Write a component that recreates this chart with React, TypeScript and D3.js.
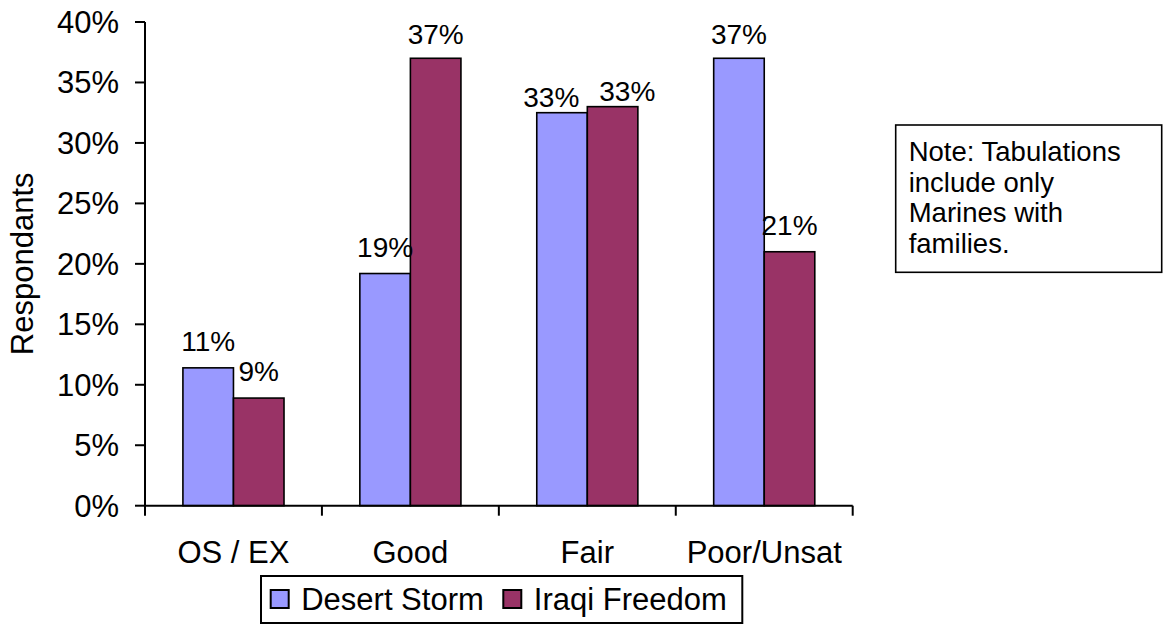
import React from "react";
import * as d3 from "d3";

const categories = ["OS / EX", "Good", "Fair", "Poor/Unsat"];
const seriesNames = ["Desert Storm", "Iraqi Freedom"];
const desertStorm = [0.114, 0.192, 0.325, 0.370];
const iraqiFreedom = [0.089, 0.370, 0.330, 0.210];
const desertStormLabels = ["11%", "19%", "33%", "37%"];
const iraqiFreedomLabels = ["9%", "37%", "33%", "21%"];
const yTicks = [0, 0.05, 0.1, 0.15, 0.2, 0.25, 0.3, 0.35, 0.4];
const seriesColors = ["#9999FF", "#993366"];
const noteLines = ["Note: Tabulations", "include only", "Marines with", "families."];

const W = 1175;
const H = 624;
const FONT = "'Liberation Sans', Arial, Helvetica, sans-serif";

export default function App() {
  const left = 145;
  const right = 852.7;
  const top = 22;
  const bottom = 505.7;

  const x = d3.scaleBand<string>().domain(categories).range([left, right]).paddingInner(0).paddingOuter(0);
  const xs = d3.scaleBand<string>().domain(seriesNames).range([0, x.bandwidth()]).paddingInner(0).paddingOuter(0.75);
  const y = d3.scaleLinear().domain([0, 0.4]).range([bottom, top]);
  const fmt = d3.format(".0%");

  const values = [desertStorm, iraqiFreedom];
  const labels = [desertStormLabels, iraqiFreedomLabels];
  const labelFont = 28;
  const labelWidth = (s: string) => {
    let w = 0;
    for (const c of s) w += c === "%" ? 0.889 : 0.556;
    return w * labelFont;
  };

  // label positions with simple collision avoidance within a category
  const labelPos = categories.map((c, i) => {
    const cx = seriesNames.map((s) => (x(c) as number) + (xs(s) as number) + xs.bandwidth() / 2);
    const ww = seriesNames.map((_, k) => labelWidth(labels[k][i]));
    const ys = seriesNames.map((_, k) => Math.max(44, y(values[k][i]) - 17));
    let x0 = cx[0];
    let x1 = cx[1];
    const overlap = x0 + ww[0] / 2 + 20 - (x1 - ww[1] / 2);
    const sameHeight = Math.abs(ys[0] - ys[1]) < labelFont;
    if (overlap > 0 && sameHeight) {
      x0 -= overlap / 2 - 2;
      x1 += overlap / 2 + 2;
      ys[0] += 11;
      ys[1] += 11;
    }
    return [
      { x: x0, y: ys[0] },
      { x: x1, y: ys[1] },
    ];
  });

  const tickEdges = [...categories.map((c) => x(c) as number), right];

  return (
    <svg width={W} height={H} style={{ position: "absolute", left: 0, top: 0, background: "#fff" }} fontFamily={FONT}>
      <rect x={0} y={0} width={W} height={H} fill="#fff" />
      {/* bars */}
      {categories.map((c, i) =>
        seriesNames.map((s, k) => (
          <rect
            key={c + s}
            x={(x(c) as number) + (xs(s) as number)}
            y={y(values[k][i])}
            width={xs.bandwidth()}
            height={bottom - y(values[k][i])}
            fill={seriesColors[k]}
            stroke="#000"
            strokeWidth={1.6}
          />
        ))
      )}
      {/* y axis */}
      <line x1={left} x2={left} y1={top} y2={bottom} stroke="#000" strokeWidth={2} />
      {yTicks.map((t) => (
        <g key={t}>
          <line x1={left - 10} x2={left} y1={y(t)} y2={y(t)} stroke="#000" strokeWidth={2} />
          <text x={119} y={y(t) + 11} textAnchor="end" fontSize={31} fill="#000">
            {fmt(t)}
          </text>
        </g>
      ))}
      {/* x axis */}
      <line x1={left} x2={right} y1={bottom} y2={bottom} stroke="#000" strokeWidth={2} />
      {tickEdges.map((tx, i) => (
        <line key={i} x1={tx} x2={tx} y1={bottom} y2={bottom + 10} stroke="#000" strokeWidth={2} />
      ))}
      {categories.map((c) => (
        <text key={c} x={(x(c) as number) + x.bandwidth() / 2} y={563} textAnchor="middle" fontSize={31} fill="#000">
          {c}
        </text>
      ))}
      {/* y axis title */}
      <text transform={`translate(33,${(top + bottom) / 2}) rotate(-90)`} textAnchor="middle" fontSize={31} fill="#000">
        Respondants
      </text>
      {/* data labels */}
      {categories.map((c, i) =>
        seriesNames.map((s, k) => (
          <text key={"l" + c + s} x={labelPos[i][k].x} y={labelPos[i][k].y} textAnchor="middle" fontSize={labelFont} fill="#000">
            {labels[k][i]}
          </text>
        ))
      )}
      {/* legend */}
      <rect x={261} y={576} width={481.3} height={47} fill="#fff" stroke="#000" strokeWidth={2} />
      {seriesNames.map((s, k) => {
        const lx = k === 0 ? 270.7 : 503.3;
        return (
          <g key={"lg" + s}>
            <rect x={lx} y={590} width={18} height={18} fill={seriesColors[k]} stroke="#000" strokeWidth={2} />
            <text x={lx + 30.5} y={610} fontSize={31} fill="#000">
              {s}
            </text>
          </g>
        );
      })}
      {/* note */}
      <rect x={895.7} y={125} width={266} height={147.3} fill="#fff" stroke="#000" strokeWidth={1.6} />
      {noteLines.map((ln, i) => (
        <text key={ln} x={908.7} y={161 + i * 30.5} fontSize={27.5} fill="#000">
          {ln}
        </text>
      ))}
    </svg>
  );
}
